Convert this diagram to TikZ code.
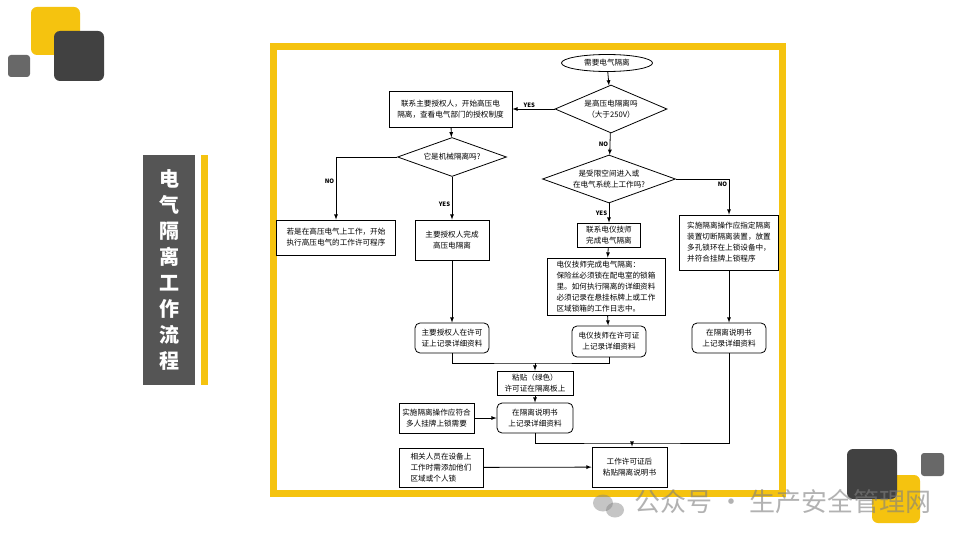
\documentclass[tikz,border=0pt]{standalone}
\usepackage{fontspec}
\setmainfont{Noto Sans CJK SC}
\usetikzlibrary{shapes.geometric}
\definecolor{deckyellow}{HTML}{F5C30F}
\definecolor{deckdark}{HTML}{414141}
\definecolor{deckgray}{HTML}{686868}
\definecolor{titlegray}{HTML}{555555}
\begin{document}
\begin{tikzpicture}[x=1pt,y=-1pt,
        flow/.style={draw,line width=0.8pt,font=\fontsize{7.6}{11}\selectfont,inner sep=2pt},
        box/.style={flow,rectangle,align=center},
        rbox/.style={flow,rectangle,rounded corners=5pt,align=center},
        dia/.style={flow,diamond,align=center,inner sep=0pt},
        arr/.style={-latex,line width=0.8pt},
        lbl/.style={font=\bfseries\fontsize{6}{7}\selectfont,inner sep=1.5pt}]
            \useasboundingbox (0,0) rectangle (960,540);
            \fill[white] (0,0) rectangle (960,540);
            % corner blocks
            \fill[deckyellow,rounded corners=6pt] (31,7) rectangle (80,55);
            \fill[deckdark,rounded corners=6pt] (54,31) rectangle (104,81);
            \fill[deckgray,rounded corners=3pt] (8,55) rectangle (30,77);
            \fill[deckyellow,rounded corners=6pt] (872,475) rectangle (920,523);
            \fill[deckdark,rounded corners=6pt] (847,449) rectangle (897,499);
            \fill[deckgray,rounded corners=3pt] (921,453) rectangle (944,476);
            % title
            \fill[titlegray] (143,155) rectangle (195,385);
            \fill[deckyellow] (201,155) rectangle (208,385);
            \node[text=white,font=\bfseries\fontsize{20}{26}\selectfont,align=center] (title) at (169,270)
                {电\\气\\隔\\离\\工\\作\\流\\程};
            % frame
            \draw[deckyellow,line width=7pt] (273.5,46.5) rectangle (782.5,493.5);
            % flow nodes
            \node[flow,ellipse,minimum width=91,minimum height=17,inner sep=0pt] (start) at (607,63) {需要电气隔离};
            \node[dia,aspect=2.3,minimum width=112,minimum height=48] (q1) at (611,109) {是高压电隔离吗\\（大于250V）};
            \node[box,minimum width=123,minimum height=36] (contact) at (450.5,109)
                {联系主要授权人，开始高压电\\隔离，查看电气部门的授权制度};
            \node[dia,aspect=2.4,minimum width=109,minimum height=39] (q2) at (452,157) {它是机械隔离吗?};
            \node[box,minimum width=119,minimum height=35] (hvbox) at (336,237.5)
                {若是在高压电气上工作，开始\\执行高压电气的工作许可程序};
            \node[box,minimum width=74,minimum height=40] (auth) at (452,240) {主要授权人完成\\高压电隔离};
            \node[rbox,minimum width=74,minimum height=30] (authlog) at (452,338) {主要授权人在许可\\证上记录详细资料};
            \node[dia,aspect=2.7,minimum width=133,minimum height=48] (q3) at (609,179) {是受限空间进入或\\在电气系统上工作吗?};
            \node[box,minimum width=63,minimum height=24] (contact2) at (609,235) {联系电仪技师\\完成电气隔离};
            \node[box,align=left,minimum width=118,minimum height=57] (fuse) at (606,286.5)
                {电仪技师完成电气隔离：\\保险丝必须锁在配电室的锁箱\\里。如何执行隔离的详细资料\\必须记录在悬挂标牌上或工作\\区域锁箱的工作日志中。};
            \node[rbox,minimum width=74,minimum height=31] (techlog) at (609,341.5) {电仪技师在许可证\\上记录详细资料};
            \node[box,align=left,minimum width=99,minimum height=55] (isobox) at (729,242.5)
                {实施隔离操作应指定隔离\\装置切断隔离装置，放置\\多孔锁环在上锁设备中，\\并符合挂牌上锁程序};
            \node[rbox,minimum width=74,minimum height=30] (isolog) at (729,338) {在隔离说明书\\上记录详细资料};
            \node[box,minimum width=76,minimum height=24] (tag) at (535,383) {粘贴（绿色）\\许可证在隔离板上};
            \node[rbox,minimum width=76,minimum height=30] (rlog) at (535,418) {在隔离说明书\\上记录详细资料};
            \node[box,minimum width=75,minimum height=30] (multi) at (436.5,418) {实施隔离操作应符合\\多人挂牌上锁需要};
            \node[box,align=left,minimum width=84,minimum height=39] (pers) at (441,467.5)
                {相关人员在设备上\\工作时需添加他们\\区域或个人锁};
            \node[box,minimum width=75,minimum height=40] (permit) at (629.5,467) {工作许可证后\\粘贴隔离说明书};
            \coordinate (m1) at (535,363);
            \coordinate (m2) at (632,443);
            % connectors
            \draw[arr] (start) -- (q1);
            \draw[arr] (q1) -- node[lbl,above,pos=0.6] {YES} (contact);
            \draw[arr] (contact) -- (q2);
            \draw[arr] (q2.west) -| node[lbl,left,pos=0.69] {NO} (hvbox.north);
            \draw[arr] (q2) -- node[lbl,left,pos=0.63] {YES} (auth);
            \draw[arr] (auth) -- (authlog);
            \draw[arr] (q1) -- node[lbl,left] {NO} (q3);
            \draw[arr] (q3.east) -| node[lbl,left,pos=0.57] {NO} (isobox.north);
            \draw[arr] (q3) -- node[lbl,left] {YES} (contact2);
            \draw[arr] (contact2) -- (fuse);
            \draw[arr] (fuse) -- (techlog);
            \draw[arr] (isobox) -- (isolog);
            \draw[line width=0.8pt] (authlog.south) |- (m1) -| (techlog.south);
            \draw[arr] (m1) -- (tag);
            \draw[arr] (tag) -- (rlog);
            \draw[arr] (multi) -- (rlog);
            \draw[line width=0.8pt] (rlog.south) |- (m2) -| (isolog.south);
            \draw[arr] (m2) -- (m2 |- permit.north);
            \draw[arr] (pers) -- (permit);
            % watermark
            \fill[gray,opacity=0.45] (603,503) ellipse (10 and 8.5);
            \fill[gray,opacity=0.45] (615,510) ellipse (9 and 7.5);
            \node[text=gray,opacity=0.6,font=\fontsize{26}{28}\selectfont,anchor=west,inner sep=0pt] (mark) at (634,502)
                {公众号 · 生产安全管理网};
        \end{tikzpicture}
\end{document}
